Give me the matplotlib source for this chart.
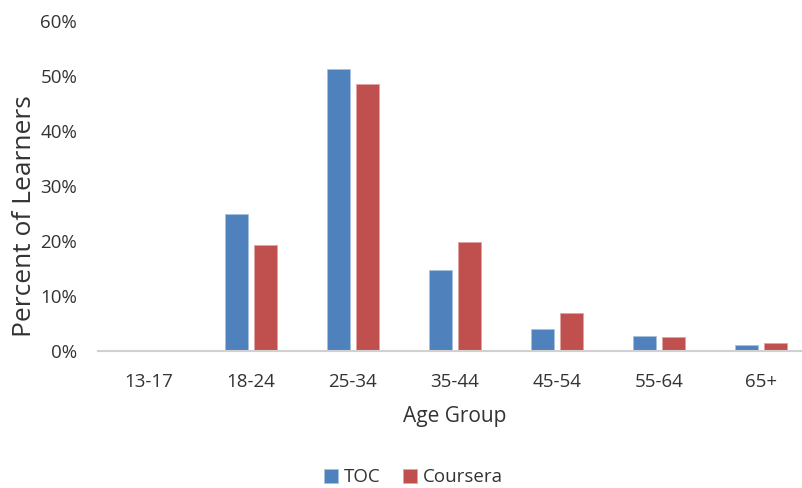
import numpy as np
import matplotlib.pyplot as plt
from matplotlib.ticker import PercentFormatter

plt.rcParams['font.family'] = ['Open Sans', 'DejaVu Sans']

# data
age_groups = ['13-17', '18-24', '25-34', '35-44', '45-54', '55-64', '65+']
toc = [0.0, 25.0, 51.3, 14.7, 4.0, 2.7, 1.15]
coursera = [0.0, 19.3, 48.7, 19.8, 6.9, 2.5, 1.4]

blue = '#4F81BD'
red = '#C0504D'
text_color = '#333333'

fig = plt.figure(figsize=(8.03, 4.88), dpi=100)
ax = fig.add_axes([0.122, 0.281, 0.889, 0.675])

x = np.arange(len(age_groups))
w = 0.225
ax.bar(x - 0.143, toc, width=w, color=blue, edgecolor='#A9C1E0', linewidth=0.6, label='TOC')
ax.bar(x + 0.143, coursera, width=w, color=red, edgecolor='#E0A3A1', linewidth=0.6, label='Coursera')

ax.set_xlim(-0.5, len(age_groups) - 0.5)
ax.set_ylim(0, 60)
ax.set_yticks(np.arange(0, 61, 10))
ax.yaxis.set_major_formatter(PercentFormatter(decimals=0))
ax.set_xticks(x)
ax.set_xticklabels(age_groups)

for s in ['top', 'right', 'left']:
    ax.spines[s].set_visible(False)
ax.spines['bottom'].set_color('#D0D0D0')
ax.spines['bottom'].set_linewidth(1.5)
ax.tick_params(axis='both', length=0, labelsize=13.5, colors=text_color)
ax.tick_params(axis='y', pad=15)
ax.tick_params(axis='x', pad=16)

ax.set_ylabel('Percent of Learners', fontsize=19, color=text_color, labelpad=2, y=0.41)
ax.set_xlabel('Age Group', fontsize=15, color=text_color, labelpad=11)

fig.legend(loc='center', bbox_to_anchor=(0.515, 0.022), ncol=2, frameon=False,
           fontsize=13.5, handlelength=0.75, handleheight=0.75, handletextpad=0.3,
           columnspacing=1.2, labelcolor=text_color)

fig.savefig('out.png', dpi=100)
